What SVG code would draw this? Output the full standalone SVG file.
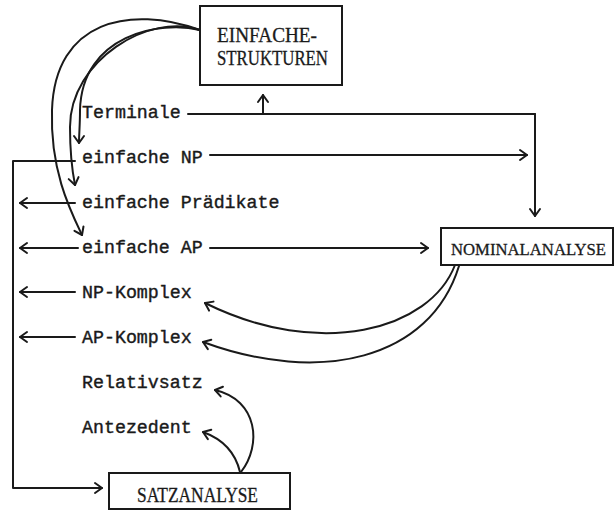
<svg xmlns="http://www.w3.org/2000/svg" width="616" height="512" viewBox="0 0 616 512">
<style>
.lbl{font-family:"Liberation Mono","DejaVu Sans Mono",monospace;font-size:18.3px;fill:#1a1a1a;stroke:#1a1a1a;stroke-width:0.4}
.box{fill:#fff;stroke:#1a1a1a;stroke-width:2}
.bt{font-family:"Liberation Serif","DejaVu Serif",serif;font-size:20px;fill:#1a1a1a;stroke:#1a1a1a;stroke-width:0.3}
.c{fill:none;stroke:#1a1a1a;stroke-width:2;stroke-linecap:round;stroke-linejoin:round}
.a{marker-end:url(#arr)}
</style>
<defs>
<marker id="arr" viewBox="-9 -7 11 14" markerWidth="11" markerHeight="14" refX="0" refY="0" orient="auto" markerUnits="userSpaceOnUse">
<path d="M-7,-5 L0,0 L-7,5" fill="none" stroke="#1a1a1a" stroke-width="2" stroke-linecap="round" stroke-linejoin="round"/>
</marker>
</defs>
<rect width="616" height="512" fill="#fff"/>
<g id="connectors">
<path class="c a" d="M200,30 C160,20 82,35 80,110 C80,125 79,135 79,143"/>
<path class="c a" d="M200,30 C150,12 70,60 70,127 C70,155 72,170 75,185"/>
<path class="c a" d="M200,30 C130,5 55,20 52,110 C50,170 70,210 82,235"/>
<path class="c" d="M188,114 L535,114"/>
<path class="c a" d="M263,114 L263,95"/>
<path class="c a" d="M535,114 L535,216"/>
<path class="c a" d="M210,155 L527,155"/>
<path class="c a" d="M75,161 L13,161 L13,488 L102,488"/>
<path class="c a" d="M75,203 L20,203"/>
<path class="c a" d="M78,248 L20,248"/>
<path class="c a" d="M210,248 L428,248"/>
<path class="c a" d="M75,292 L20,292"/>
<path class="c a" d="M75,337 L20,337"/>
<path class="c a" d="M455,265 C430,330 320,360 205,303"/>
<path class="c a" d="M459,266 C430,360 320,385 203,342"/>
<path class="c a" d="M241,472 C262,445 258,400 215,390"/>
<path class="c a" d="M240,472 C236,455 225,440 203,432"/>
</g>
<g id="einfache-strukturen">
<rect class="box" x="200" y="6" width="142" height="79"/>
<text class="bt" x="217" y="42" textLength="100" lengthAdjust="spacingAndGlyphs">EINFACHE-</text>
<text class="bt" x="217" y="65" textLength="111" lengthAdjust="spacingAndGlyphs">STRUKTUREN</text>
</g>
<g id="nominalanalyse">
<rect class="box" x="441" y="228" width="172" height="37"/>
<text class="bt" x="451" y="255" style="font-size:17px" textLength="155" lengthAdjust="spacingAndGlyphs">NOMINALANALYSE</text>
</g>
<g id="satzanalyse">
<rect class="box" x="109" y="473" width="181" height="36"/>
<text class="bt" x="137" y="502" textLength="121" lengthAdjust="spacingAndGlyphs">SATZANALYSE</text>
</g>
<g id="terminale"><text class="lbl" x="82" y="118">Terminale</text></g>
<g id="einfache-np"><text class="lbl" x="82" y="163">einfache NP</text></g>
<g id="einfache-praedikate"><text class="lbl" x="82" y="208">einfache Prädikate</text></g>
<g id="einfache-ap"><text class="lbl" x="82" y="253">einfache AP</text></g>
<g id="np-komplex"><text class="lbl" x="82" y="298">NP-Komplex</text></g>
<g id="ap-komplex"><text class="lbl" x="82" y="343">AP-Komplex</text></g>
<g id="relativsatz"><text class="lbl" x="82" y="388">Relativsatz</text></g>
<g id="antezedent"><text class="lbl" x="82" y="433">Antezedent</text></g>
</svg>
